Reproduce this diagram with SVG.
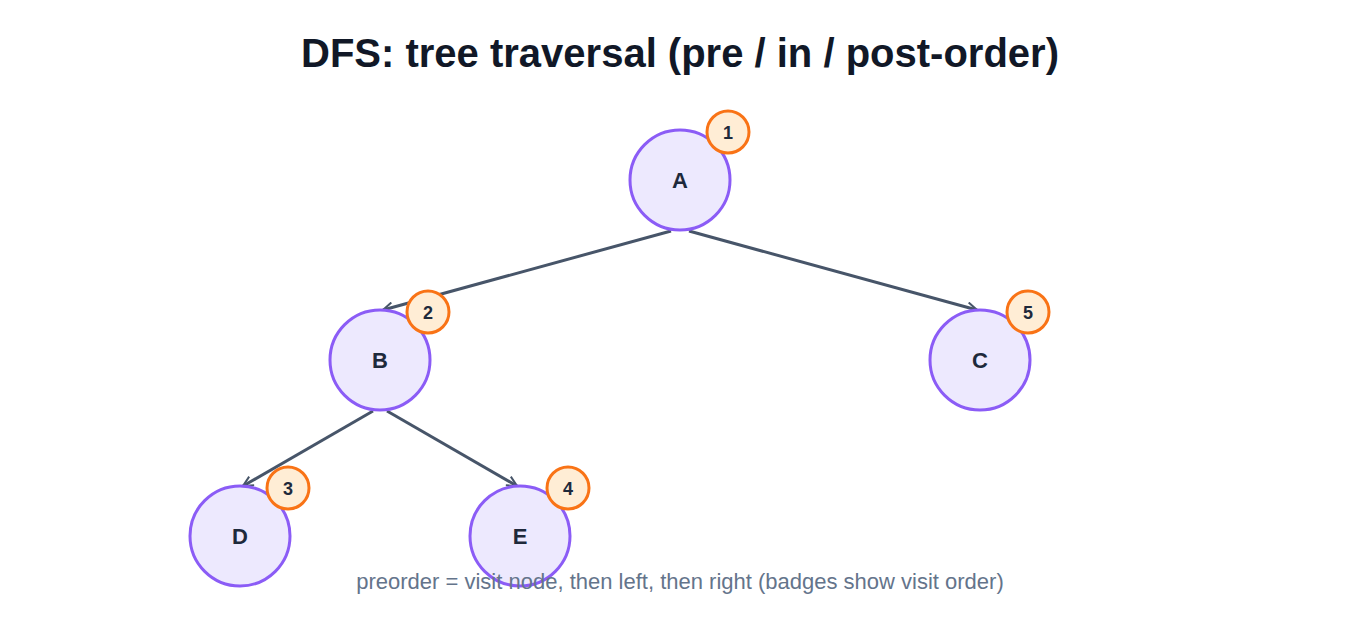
<svg xmlns="http://www.w3.org/2000/svg" width="1360" height="640" viewBox="0 0 1360 640">
<style>
.node{fill:#ede9fe;stroke:#8b5cf6;stroke-width:3}
.lbl{font-family:"Liberation Sans",Arial,sans-serif;font-weight:bold;font-size:22px;fill:#1e293b;text-anchor:middle}
.badge{fill:#ffedd5;stroke:#f97316;stroke-width:3}
.bt{font-family:"Liberation Sans",Arial,sans-serif;font-weight:bold;font-size:18px;fill:#1e293b;text-anchor:middle}
.edge{stroke:#475569;stroke-width:3;fill:none;marker-end:url(#arr)}
</style>
<defs>
<marker id="arr" viewBox="0 0 12 12" refX="11" refY="6" markerWidth="12" markerHeight="12" markerUnits="userSpaceOnUse" orient="auto">
<path d="M1,1 L11,6 L1,11" fill="none" stroke="#475569" stroke-width="2"/>
</marker>
</defs>
<rect width="1360" height="640" fill="#ffffff"/>
<text x="680" y="67" font-family="Liberation Sans,Arial,sans-serif" font-weight="bold" font-size="40" fill="#111827" text-anchor="middle">DFS: tree traversal (pre / in / post-order)</text>
<g id="connectors">
<line class="edge" x1="671" y1="231" x2="383" y2="310"/>
<line class="edge" x1="689" y1="231" x2="977" y2="310"/>
<line class="edge" x1="373" y1="411" x2="243" y2="486"/>
<line class="edge" x1="387" y1="411" x2="517" y2="486"/>
</g>
<g id="A"><circle class="node" cx="680" cy="180" r="50"/><text class="lbl" x="680" y="188">A</text></g>
<g id="B"><circle class="node" cx="380" cy="360" r="50"/><text class="lbl" x="380" y="368">B</text></g>
<g id="C"><circle class="node" cx="980" cy="360" r="50"/><text class="lbl" x="980" y="368">C</text></g>
<g id="D"><circle class="node" cx="240" cy="536" r="50"/><text class="lbl" x="240" y="544">D</text></g>
<g id="E"><circle class="node" cx="520" cy="536" r="50"/><text class="lbl" x="520" y="544">E</text></g>
<g id="badge1"><circle class="badge" cx="728" cy="132" r="21"/><text class="bt" x="728" y="139">1</text></g>
<g id="badge2"><circle class="badge" cx="428" cy="312" r="21"/><text class="bt" x="428" y="319">2</text></g>
<g id="badge5"><circle class="badge" cx="1028" cy="312" r="21"/><text class="bt" x="1028" y="319">5</text></g>
<g id="badge3"><circle class="badge" cx="288" cy="488" r="21"/><text class="bt" x="288" y="495">3</text></g>
<g id="badge4"><circle class="badge" cx="568" cy="488" r="21"/><text class="bt" x="568" y="495">4</text></g>
<text x="680" y="589" font-family="Liberation Sans,Arial,sans-serif" font-size="22" fill="#64748b" text-anchor="middle">preorder = visit node, then left, then right (badges show visit order)</text>
</svg>
